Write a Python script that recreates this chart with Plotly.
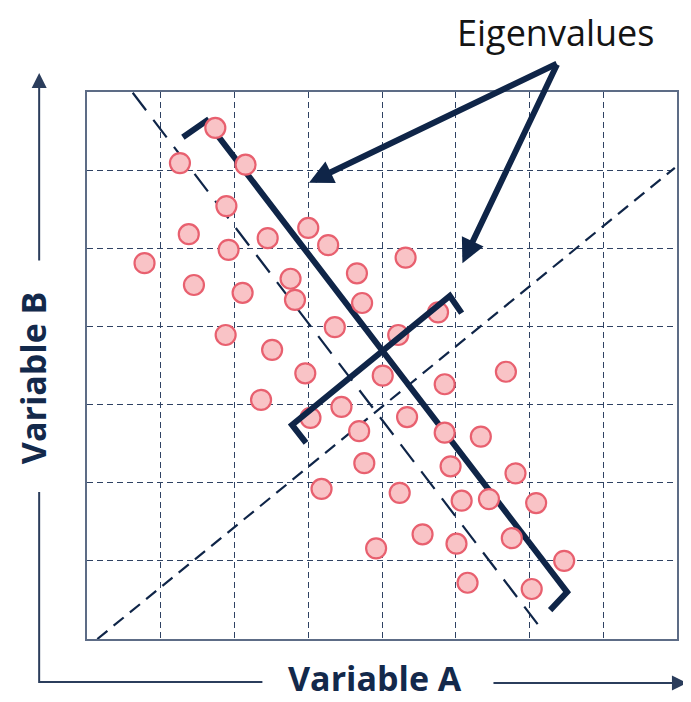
import plotly.graph_objects as go

# ---- data ----
pts_x = [1.74, 1.26, 2.15, 1.89, 1.38, 1.92, 2.45, 3.00, 3.27, 0.78,
         1.45, 2.11, 2.76, 2.82, 3.66, 4.32, 3.73, 1.88, 3.36, 2.51,
         4.22, 4.76, 2.96, 4.01, 4.85, 5.68, 2.36, 3.45, 3.03, 3.69,
         4.34, 4.85, 5.34, 3.76, 4.93, 5.81, 3.18, 4.24, 5.08, 5.45,
         6.09, 4.55, 3.92, 5.01, 5.76, 6.47, 5.16, 6.03]
pts_y = [6.54, 6.09, 6.07, 5.54, 5.18, 4.98, 5.13, 5.26, 5.04, 4.81,
         4.53, 4.43, 4.61, 4.34, 4.68, 4.88, 4.30, 3.89, 3.99, 3.70,
         3.89, 4.18, 3.40, 3.37, 3.26, 3.42, 3.06, 2.97, 2.83, 2.66,
         2.84, 2.64, 2.59, 2.25, 2.21, 2.12, 1.92, 1.87, 1.77, 1.79,
         1.74, 1.34, 1.16, 1.22, 1.29, 1.00, 0.72, 0.64]

# principal directions (dashed guides)
axis1_x = [0.62, 6.20]
axis1_y = [6.99, 0.08]
axis2_x = [0.14, 7.97]
axis2_y = [0.00, 6.03]

# eigenvalue brackets
pc1_x = [1.30, 1.62, 6.51, 6.28]
pc1_y = [6.42, 6.63, 0.60, 0.37]
pc2_x = [2.97, 2.78, 4.92, 5.08]
pc2_y = [2.51, 2.74, 4.39, 4.17]

# arrow heads of the "Eigenvalues" callout (data coords)
arrow_head_x = [3.01, 5.09]
arrow_head_y = [5.84, 4.81]

x_range = [0, 8]
y_range = [0, 7]

NAVY = "#0f2548"
GRID = "#2f4263"
FRAME = "#5d6c86"
THIN = "#2b3d5c"

fig = go.Figure()

fig.add_trace(go.Scatter(x=axis1_x, y=axis1_y, mode="lines",
                         line=dict(color=NAVY, width=2.2, dash="22px,12px"),
                         hoverinfo="skip", showlegend=False))
fig.add_trace(go.Scatter(x=axis2_x, y=axis2_y, mode="lines",
                         line=dict(color=NAVY, width=2.2, dash="13px,8px"),
                         hoverinfo="skip", showlegend=False))
fig.add_trace(go.Scatter(x=pc1_x, y=pc1_y, mode="lines",
                         line=dict(color=NAVY, width=6),
                         hoverinfo="skip", showlegend=False))
fig.add_trace(go.Scatter(x=pts_x, y=pts_y, mode="markers",
                         marker=dict(size=20, color="#f9c3c6",
                                     line=dict(color="#e8606f", width=2.2)),
                         showlegend=False))
fig.add_trace(go.Scatter(x=pc2_x, y=pc2_y, mode="lines",
                         line=dict(color=NAVY, width=6),
                         hoverinfo="skip", showlegend=False))

# page body margin offsets the figure by 8px; reference-frame plot box:
OFF = 8
REF_W, REF_H = 691, 702
P_L, P_R, P_T, P_B = 87, 679, 92, 639
PW, PH = P_R - P_L, P_B - P_T
W, H = REF_W - OFF, REF_H - OFF
ML, MR, MT, MB = P_L - OFF, REF_W - P_R, P_T - OFF, REF_H - P_B


def px(xp):
    return (xp - P_L) / PW


def py(yp):
    return (P_B - yp) / PH


annotations = []
apex = (559, 63)
for hx, hy in zip(arrow_head_x, arrow_head_y):
    hx_px = P_L + (hx - x_range[0]) / (x_range[1] - x_range[0]) * PW
    hy_px = P_T + (y_range[1] - hy) / (y_range[1] - y_range[0]) * PH
    annotations.append(dict(x=hx, y=hy, xref="x", yref="y", text="",
                            showarrow=True, arrowhead=2, arrowsize=0.8,
                            arrowwidth=6, arrowcolor=NAVY, standoff=0,
                            ax=apex[0] - hx_px, ay=apex[1] - hy_px))

annotations.append(dict(x=px(557), y=py(33), xref="paper", yref="paper",
                        text="Eigenvalues", showarrow=False,
                        xanchor="center", yanchor="middle",
                        font=dict(family="Open Sans", size=36, color="#141414")))
annotations.append(dict(x=px(376), y=py(678), xref="paper", yref="paper",
                        text="<b>Variable A</b>", showarrow=False,
                        xanchor="center", yanchor="middle",
                        font=dict(family="Open Sans", size=34, color="#13294b")))
annotations.append(dict(x=px(33), y=py(378), xref="paper", yref="paper",
                        text="<b>Variable B</b>", showarrow=False, textangle=-90,
                        xanchor="center", yanchor="middle",
                        font=dict(family="Open Sans", size=34, color="#13294b")))
annotations.append(dict(x=px(39), y=py(73), xref="paper", yref="paper", text="",
                        showarrow=True, arrowhead=2, arrowsize=1.5, arrowwidth=2,
                        arrowcolor=THIN, standoff=0, ax=0, ay=262 - 73))
annotations.append(dict(x=px(689), y=py(683), xref="paper", yref="paper", text="",
                        showarrow=True, arrowhead=2, arrowsize=1.5, arrowwidth=2,
                        arrowcolor=THIN, standoff=0, ax=494 - 689, ay=0))

shapes = [dict(type="path", xref="paper", yref="paper",
               path=f"M {px(39)} {py(492)} L {px(39)} {py(682)} L {px(263)} {py(682)}",
               line=dict(color=THIN, width=2))]

axis_common = dict(showgrid=True, gridcolor=GRID, gridwidth=1.3, griddash="6px,4px",
                   dtick=1, showticklabels=False, ticks="", zeroline=False,
                   showline=True, linecolor=FRAME, linewidth=2, mirror=True,
                   fixedrange=True)

fig.update_layout(
    width=W, height=H,
    margin=dict(l=ML, r=MR, t=MT, b=MB),
    paper_bgcolor="white", plot_bgcolor="white",
    xaxis=dict(range=x_range, **axis_common),
    yaxis=dict(range=y_range, **axis_common),
    annotations=annotations, shapes=shapes,
    showlegend=False,
)

fig.write_html("out.html")
